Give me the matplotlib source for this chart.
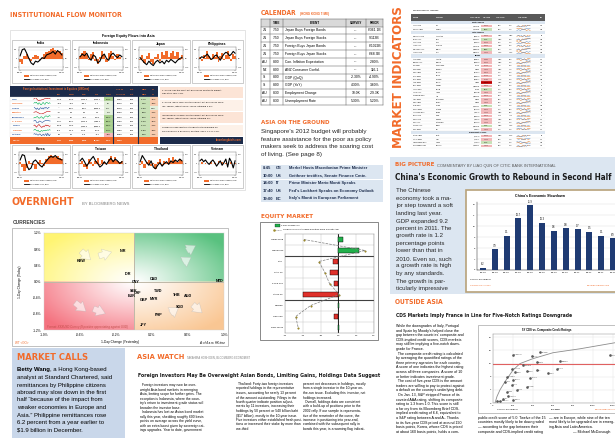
import numpy as np
import matplotlib.pyplot as plt
from matplotlib import font_manager as fm
from matplotlib.patches import Rectangle

W, H = 615, 438
ORANGE = '#F26B2A'
NAVY = '#1C2B4A'
BLUE_BG = '#DCE6F1'
SANS = ['Liberation Sans', 'DejaVu Sans']
plt.rcParams['font.family'] = SANS

# a condensed bold face for the headlines, if one is installed
cands = [f for f in fm.fontManager.ttflist
         if f.weight in ('bold', 700) and f.style == 'normal'
         and ('Narrow' in f.name or 'Condensed' in f.name or 'condensed' in str(f.stretch))]
cands.sort(key=lambda f: ('Sans' not in f.name and 'Roboto' not in f.name, f.name))
if cands:
    NARROW = [cands[0].name, 'DejaVu Sans']
    NSTRETCH = cands[0].stretch
else:
    NARROW = SANS
    NSTRETCH = 'normal'

# ---------------- data ----------------
# Foreign equity flows into Asia: net flows (bars) and MSCI index (line), Mar-11 .. Feb-12
india_flow = [-0.4, -0.6, 0.3, 0.5, 0.1, -0.3, 0.2, 0.4, 0.3, -0.2, 0.1, 0.5, 0.7, 0.9, 1.1, 1.2, 1.0, 0.9, 0.8, 0.6]
india_index = [0.3, 1.0, 1.1, 0.6, 0.0, -0.5, -0.7, -0.3, -0.4, -0.2, 0.1, 0.0, 0.4, 0.5, 0.6, 0.8, 0.5, 0.9, 0.7, 0.4]
indonesia_flow = [0.3, 0.6, 0.9, 0.4, -0.2, 0.5, 0.7, -0.3, -0.6, 0.2, 0.8, 0.4, -0.4, 0.6, 0.9, 0.3, -0.2, 0.5, 0.2, -0.1]
indonesia_index = [0.2, 0.5, 0.3, 0.6, 0.1, -0.2, 0.4, 0.2, -0.5, -0.3, 0.3, 0.5, 0.0, -0.2, 0.4, 0.6, 0.3, 0.1, 0.4, 0.2]
japan_flow = [-0.2, 0.4, -0.5, 0.3, 0.6, -0.4, -0.6, 0.2, 0.5, -0.3, 0.7, 0.4, 0.8, 0.2, 0.6, 0.9, 0.3, 0.7, -0.2, 0.4]
japan_index = [0.1, -0.2, -0.5, -0.7, -0.3, -0.6, -0.8, -0.4, -0.2, -0.5, -0.3, -0.6, -0.2, -0.4, -0.1, -0.3, -0.5, -0.2, 0.0, 0.1]
philippines_flow = [0.2, -0.3, 0.4, 0.1, 0.9, 0.3, -0.2, 0.5, 0.2, 0.7, -0.4, 0.3, 0.6, -0.2, 0.4, 0.8, 0.2, -0.3, 0.5, 0.3]
philippines_index = [0.0, 0.2, 0.1, 0.3, 0.5, 0.2, -0.1, 0.0, 0.3, 0.4, 0.1, -0.2, 0.2, 0.5, 0.7, 0.6, 0.3, 0.5, 0.8, 0.6]
korea_flow = [0.2, -0.4, -0.8, -0.5, 0.3, 0.1, -0.2, -0.6, 0.2, 0.4, 0.1, -0.3, 0.5, 0.8, 1.0, 0.9, 0.7, 0.8, 0.6, 0.5]
korea_index = [0.4, 1.0, 0.9, -0.2, -0.7, -0.5, 0.2, 0.4, 0.1, -0.2, -0.4, 0.0, 0.3, 0.6, 0.8, 0.7, 0.9, 0.6, 0.5, 0.4]
taiwan_flow = [0.1, 0.3, -0.4, -0.6, 0.5, 0.2, -0.3, 0.3, 0.6, -0.2, 0.4, 0.2, -0.1, 0.5, 0.8, 0.4, 0.7, 0.3, 0.2, 0.3]
taiwan_index = [0.3, 0.6, 0.2, -0.3, 0.1, 0.5, 0.8, 0.3, 0.0, -0.4, -0.2, 0.2, -0.1, 0.3, 0.6, 0.2, 0.5, 0.3, 0.0, 0.2]
thailand_flow = [-0.2, 0.3, -0.5, 0.2, 0.4, -0.3, 0.1, -0.6, 0.2, 0.5, -0.2, 0.3, 0.1, 0.6, 0.3, 0.7, 0.4, 0.2, 0.5, 0.3]
thailand_index = [0.2, 0.9, 0.5, 0.1, -0.2, 0.3, -0.4, -0.6, -0.2, 0.1, -0.3, 0.0, 0.2, -0.1, 0.3, 0.1, 0.4, 0.2, 0.5, 0.3]
vietnam_flow = [0.0, 0.2, 0.0, 0.1, 0.0, -0.1, 0.2, 0.0, 0.1, 0.0, 0.3, 0.0, 0.2, 0.0, 0.1, 0.0, -0.1, 0.2, 0.0, 0.1]
vietnam_index = [0.3, 0.5, 0.2, 0.4, 0.1, -0.1, 0.2, 0.4, 0.1, -0.3, 0.0, 0.3, -0.2, 0.1, 0.5, -0.4, 0.6, 0.2, -0.5, 0.3]
pakistan_index = [0.1, 0.2, 0.0, -0.2, -0.1, 0.1, 0.3, 0.2]

ifm_countries = ['India', 'Indonesia', 'Japan', 'Pakistan', 'Philippines', 'S. Korea', 'Taiwan', 'Thailand', 'Vietnam']
ifm_day = ['252.6', '-45.8', '--', '-0.7', '-3.7', '254.7', '552.8', '99.2', '0.0']
ifm_wtd = ['353.0', '-45.8', '998.7', '0.3', '8.7', '372.1', '236.0', '101.4', '5.4']
ifm_mtd = ['1,245.3', '-136.7', '998.7', '0.3', '-29.6', '2,212.9', '1,233.6', '412.6', '12.3']
ifm_ytd = ['6,423.1', '71.7', '5,836.3', '4.3', '346.2', '7,386.3', '5,863.2', '553.0', '-19.2']
ifm_ytd_pct = [224, 3, 42, 16, 282, 392, 181, 264, -38]
ifm_cap = ['0.28%', '0.02%', '0.02%', '0.09%', '0.20%', '0.78%', '0.88%', '0.28%', '0.08%']
ifm_msci = [10.7, 1.2, 10.9, 8.6, 9.0, 10.2, 13.7, 12.8, 5.6]
ifm_us = [-0.2, -0.8, 1.9, -0.3, -2.7, -0.5, -0.4, -0.9, -1.4]
ifm_total = ['1,111', '2,029', '5,949', '32,464', '128%', '0.26%', '', '', '']

# Currencies: 1-day change yesterday (x) vs today (y), %
cur_codes = ['KRW', 'INR', 'IDR', 'CNY', 'CAD', 'SEK', 'CHF', 'EUR', 'GBP', 'MYR', 'TWD', 'THB', 'AUD', 'SGD', 'PHP', 'JPY', 'NZD']
cur_yesterday = [-0.59, -0.12, -0.07, 0.02, 0.22, 0.00, 0.04, -0.03, 0.11, 0.22, 0.27, 0.48, 0.60, 0.51, 0.27, 0.11, 0.95]
cur_today = [0.51, 0.75, 0.19, -0.02, 0.07, -0.24, -0.29, -0.36, -0.46, -0.44, -0.24, -0.34, -0.36, -0.63, -0.82, -1.07, 0.02]

# Equity market
eq_names = ['Hang Seng', 'Nikkei 225', 'DAX', 'CAC 40', 'FTSE 100', 'Stoxx 50', 'Nasdaq', 'S&P 500', 'Dow Jones']
eq_change = [0.12, 0.57, -0.16, -0.25, -0.11, -0.99, 0.01, -0.11, 0.02]
eq_volume = [-0.97, 0.75, -0.55, -0.38, -0.25, 0.02, -0.78, -1.20, -1.13]

# Calendar
cal_country = ['JN', 'JN', 'JN', 'JN', 'AU', 'NZ', 'SI', 'SI', 'AU', 'AU']
cal_time = ['7:50', '7:50', '7:50', '7:50', '8:00', '8:00', '8:00', '8:00', '8:30', '8:30']
cal_event = ['Japan Buys Foreign Bonds', 'Japan Buys Foreign Stocks', 'Foreign Buys Japan Bonds',
             'Foreign Buys Japan Stocks', 'Con. Inflation Expectation', 'ANZ Consumer Confid.',
             'GDP (QoQ)', 'GDP (YoY)', 'Employment Change', 'Unemployment Rate']
cal_survey = ['---', '---', '---', '---', '---', '---', '-2.30%', '4.30%', '10.0K', '5.30%']
cal_prior = ['¥361.1B', '-¥113B', '¥1022B', '¥68.3B', '2.80%', '116.1', '-4.90%', '3.60%', '-29.3K', '5.20%']

ev_time = ['8:45', '10:00', '14:00', '17:40', '19:00']
ev_country = ['GE', 'US', 'IT', 'US', 'EC']
ev_text = ['Merkel Hosts Macedonian Prime Minister', 'Geithner testifies, Senate Finance Cmte.',
           'Prime Minister Mario Monti Speaks', "Fed's Lockhart Speaks on Economy Outlook",
           "Italy's Monti in European Parliament"]

# China GDP
gdp_quarters = ['1Q-09', '2Q-09', '3Q-09', '4Q-09', '1Q-10', '2Q-10', '3Q-10', '4Q-10', '1Q-11', '2Q-11', '3Q-11', '4Q-11']
gdp_yoy = [6.2, 7.9, 9.1, 10.7, 11.9, 10.3, 9.6, 9.8, 9.7, 9.5, 9.1, 8.9]

# CDS vs composite ratings
cds_country = ['Philippines', 'Turkey', 'Vietnam', 'Croatia', 'Hungary', 'Portugal', 'Romania', 'Indonesia',
               'Brazil', 'Russia', 'Italy', 'Spain', 'Ireland', 'Mexico', 'Colombia', 'Peru', 'Poland',
               'China', 'Korea', 'Japan', 'Belgium', 'Austria', 'France', 'U.K.', 'Germany', 'U.S.']
cds_spread = [197, 387, 470, 437, 670, 1170, 303, 187, 220, 337, 437, 553, 637, 203, 137, 120, 370,
              187, 237, 137, 337, 153, 203, 103, 70, 37]
cds_rating = [14.7, 14.3, 15.5, 12.5, 12.7, 14.5, 11.5, 10.5, 9.3, 9.7, 10.0, 9.0, 10.5, 7.0, 8.0, 6.5, 7.7,
              5.5, 4.0, 3.5, 5.0, 2.0, 1.0, 1.3, 0.7, 0.5]
cds_trend_x = [20, 40, 70, 120, 200, 270, 400, 600, 870, 1250]
cds_trend_y = [0.0, 2.0, 4.0, 6.5, 10.0, 12.0, 13.5, 15.3, 16.5, 18.5]

# World equity indices
we_north = ['U.S.', 'Canada']
we_latin = ['Argentina', 'Brazil', 'Chile', 'Colombia', 'Mexico', 'Peru']
we_europe = ['Austria', 'Belgium', 'Czech Rep.', 'Denmark', 'Finland', 'France', 'Germany', 'Greece',
             'Hungary', 'Iceland', 'Ireland', 'Italy', 'Netherlands', 'Norway', 'Poland', 'Portugal',
             'Russia', 'Spain', 'Sweden', 'Switzerland', 'Turkey', 'U.K.']
we_mea = ['Egypt', 'Israel', 'Jordan', 'Morocco']
we_tickers = ['INDU', 'SPTSX', 'MERVAL', 'IBOV', 'IPSA', 'IGBC', 'MEXBOL', 'IGBVL', 'ATX', 'BEL20', 'PX',
              'KFX', 'HEX', 'CAC', 'DAX', 'ASE', 'BUX', 'ICEXI', 'ISEQ', 'FTSEMIB', 'AEX', 'OBX', 'WIG',
              'PSI20', 'INDEXCF', 'IBEX', 'OMX', 'SMI', 'XU100', 'UKX', 'CASE', 'TA-25', 'JOSMGNFF', 'MOSENEW']
we_last = [12874.04, 12019.93, 2640.76, 64825.11, 4493.65, 13872.48, 37983.20, 21045.77,
           2188.21, 2356.50, 970.10, 464.62, 2176.84, 3369.63, 6728.07, 754.82, 19165.32, 670.36,
           3197.98, 16134.16, 321.52, 421.63, 40951.51, 5577.12, 1530.46, 8564.50, 1085.96, 6121.89,
           59710.04, 5899.87, 4874.40, 1075.31, 1913.84, 10893.01]
we_chg = [-0.24, 0.13, -1.06, 0.64, -0.21, -0.22, 0.18, -0.44, -0.65, -0.64, -0.59, -0.33, -0.87, -0.59,
          -0.55, -3.62, -0.92, 0.11, -0.42, -0.97, -0.38, -0.42, 0.23, -0.89, -0.16, -0.87, -0.35, -0.41,
          0.53, -0.12, -1.11, -0.16, 0.04, -0.31]
we_ytd = [5.4, 7.5, 21.8, 14.2, 8.6, 14.9, 2.4, 18.2, 15.1, 11.5, 6.3, 11.9, 9.6, 6.6, 14.1, 11.4, 6.4,
          3.2, 11.7, 7.5, 8.4, 7.2, 9.3, 0.6, 11.2, -0.2, 10.7, 4.9, 23.1, 5.9, 34.2, 1.8, 0.3, 4.1]
we_pe = [13.8, 14.2, 9.1, 11.6, 18.3, 16.8, 17.2, 12.1, 13.4, 11.8, 10.2, 15.9, 12.3, 10.9, 11.5, 0.0,
         9.8, 8.6, 11.1, 10.7, 10.4, 9.2, 11.6, 10.1, 6.2, 9.9, 12.2, 13.3, 10.6, 10.5, 9.4, 10.2, 14.6, 15.8]
spark_up = [3, 4, 3, 5, 4, 6, 5, 6]
spark_down = [6, 5, 6, 4, 5, 3, 4, 3]
spark_flat = [4, 5, 3, 4, 5, 4, 6, 5]

# ---------------- helpers ----------------
fig = plt.figure(figsize=(W / 100, H / 100), dpi=100)
fig.patch.set_facecolor('white')
bg = fig.add_axes([0, 0, 1, 1])
bg.set_xlim(0, W)
bg.set_ylim(H, 0)
bg.axis('off')
renderer = fig.canvas.get_renderer()


def px_axes(x, y, w, h):
    return fig.add_axes([x / W, 1 - (y + h) / H, w / W, h / H])


def put(x, y, s, size=3, color='black', weight='normal', ha='left', va='center', family=SANS, **kw):
    return bg.text(x, y, s, fontsize=size, color=color, fontweight=weight, ha=ha, va=va,
                   family=family, **kw)


def head(x, y, s, width, color=ORANGE, size=8, **kw):
    # condensed bold headline, scaled so that it spans `width` pixels like the print page
    t = put(x, y, s, size=size, color=color, weight='bold', family=NARROW, fontstretch=NSTRETCH, **kw)
    bb = t.get_window_extent(renderer)
    span = bb.height if kw.get('rotation', 0) == 90 else bb.width
    t.set_fontsize(size * width / span)
    return t


def rect(x, y, w, h, fc='none', ec='none', lw=0.4, z=1):
    bg.add_patch(Rectangle((x, y), w, h, facecolor=fc, edgecolor=ec, linewidth=lw, zorder=z))


def hline(x0, x1, y, color='#999999', lw=0.4, ls='-'):
    bg.plot([x0, x1], [y, y], color=color, lw=lw, ls=ls)


def vline(x, y0, y1, color='#999999', lw=0.4):
    bg.plot([x, x], [y0, y1], color=color, lw=lw)


def lines_block(x, y, lines, step, size, **kw):
    for i, s in enumerate(lines):
        put(x, y + i * step, s.replace('$', r'\$'), size=size, **kw)


def tiny_axes(ax):
    ax.set_xticks([])
    ax.set_yticks([])
    for sp in ax.spines.values():
        sp.set_visible(False)
    ax.patch.set_alpha(0)


# ---------------- INSTITUTIONAL FLOW MONITOR ----------------
head(10, 15, 'INSTITUTIONAL FLOW MONITOR', 112)
rect(10, 30, 235, 160, ec='#D0D0D0', lw=0.4)
put(128, 36, 'Foreign Equity Flows into Asia', size=2.6, weight='bold', ha='center')


def flow_chart(x, y, w, name, flow, index):
    rect(x, y, w, 43, fc='white', ec='#A6A6A6', lw=0.4)
    put(x + w / 2, y + 3.5, name, size=2.4, weight='bold', ha='center')
    ax = px_axes(x + 7, y + 7, w - 14, 23)
    pos = np.arange(len(flow))
    ax.bar(pos, flow, width=1.0, color=ORANGE, lw=0)
    ax.set_xlim(-0.5, len(flow) - 0.5)
    ax.set_ylim(-1.3, 1.3)
    ax.grid(axis='y', lw=0.2, color='#CCCCCC')
    ax.set_axisbelow(True)
    ax2 = ax.twinx()
    ax2.plot(pos, index, color='black', lw=0.8)
    ax2.set_ylim(-1.3, 1.3)
    for a in (ax, ax2):
        a.tick_params(labelsize=1.4, length=0.8, width=0.2, pad=0.4)
        for sp in a.spines.values():
            sp.set_linewidth(0.2)
            sp.set_color('#888888')
    ax.set_xticks([0, len(flow) - 1], ['Mar-11', 'Feb-12'])
    ax.set_yticks([-1, 0, 1], ['-500', '0', '500'])
    ax2.set_yticks([-1, 0, 1], ['-10%', '0%', '10%'])
    rect(x + 12, y + 34.5, 5, 2, fc=ORANGE)
    put(x + 18, y + 35.5, 'Net Foreign Flows (USDmn, LHS)', size=1.3)
    hline(x + 12, x + 17, y + 39, color='black', lw=0.6)
    put(x + 18, y + 39, 'MSCI Index (USD, RHS)', size=1.3)


flow_chart(12, 40, 58, 'India', india_flow, india_index)
flow_chart(72, 40, 58, 'Indonesia', indonesia_flow, indonesia_index)
flow_chart(132, 40, 58, 'Japan', japan_flow, japan_index)
flow_chart(192, 40, 51, 'Philippines', philippines_flow, philippines_index)
flow_chart(12, 145, 58, 'Korea', korea_flow, korea_index)
flow_chart(72, 145, 58, 'Taiwan', taiwan_flow, taiwan_index)
flow_chart(132, 145, 58, 'Thailand', thailand_flow, thailand_index)
flow_chart(192, 145, 51, 'Vietnam', vietnam_flow, vietnam_index)

# flows table
rect(10, 86, 148, 11, fc=NAVY)
put(56, 89, 'Foreign Institutional Investment in Equities (USDmn)', size=1.9, color=ORANGE, weight='bold', ha='center')
col_x = [59, 71, 84, 97, 108.5, 120, 132, 144, 153.5]
for cx, s in zip(col_x, ['Day', 'WTD', 'MTD', 'YTD', 'YTD%', '% of Cap', 'Last', 'MSCI', 'US']):
    put(cx, 94.5, s, size=1.5, color=ORANGE, weight='bold', ha='center')
put(120, 89, 'YTD as', size=1.5, color=ORANGE, weight='bold', ha='center')
put(132, 89, 'Last', size=1.5, color=ORANGE, weight='bold', ha='center')
put(144, 89, 'MSCI', size=1.5, color=ORANGE, weight='bold', ha='center')
put(153.5, 89, 'US', size=1.5, color=ORANGE, weight='bold', ha='center')
row_h = 4.45
spark_lists = [india_index, indonesia_index, japan_index, pakistan_index, philippines_index,
               korea_index, taiwan_index, thailand_index, vietnam_index]
for i, name in enumerate(ifm_countries):
    ry = 97 + i * row_h
    rect(10, ry, 148, row_h, fc='white', ec='#D9D9D9', lw=0.2)
    pct = ifm_ytd_pct[i]
    rect(104, ry, 9, row_h, fc='#A9D08E' if pct > 100 else ('#E2EFDA' if pct >= 0 else '#F4B6B8'))
    rect(138, ry, 12, row_h, fc='#C6E0B4')
    rect(150, ry, 8, row_h, fc='#F8CBAD' if ifm_us[i] < 0 else '#E2EFDA')
    cy = ry + row_h / 2
    put(12, cy, name, size=1.7, weight='bold', color='#1F4E9A' if i % 2 == 0 else ORANGE)
    vals = [ifm_day[i], ifm_wtd[i], ifm_mtd[i], ifm_ytd[i], f'{pct}%', ifm_cap[i], '2/13',
            f'{ifm_msci[i]:.1f}%', f'{ifm_us[i]:.1f}%']
    for cx, s in zip(col_x, vals):
        put(cx, cy, s, size=1.5, ha='center')
    sa = px_axes(33, ry + 0.6, 18, row_h - 1.2)
    sa.plot(spark_lists[i], color=['#C00000', '#00B050', '#1F4E9A'][i % 3], lw=0.4)
    tiny_axes(sa)
vline(113, 86, 143, color=NAVY, lw=0.8)
vline(137.5, 86, 143, color=NAVY, lw=0.8)
rect(10, 137, 148, 6.5, fc=ORANGE)
put(12, 140.2, 'TOTAL', size=1.7, weight='bold', color='white')
for cx, s in zip(col_x, ifm_total):
    put(cx, 140.2, s, size=1.5, ha='center', color='white', weight='bold')

# notes
notes = [
    ['1. Korea: has the most net purchases relative to market', 'cap at 0.178% YTD.'],
    ['2. Korea ($372.1mn) has the highest net purchases WTD', '(ex. Japan), with its MSCI Index returning 2.3%.'],
    ['Indonesia ($-45.8mn) has the lowest net purchases WTD', '(ex. Japan), with its MSCI Index returning 2%.'],
    ['Taiwan & India saw the strongest net purchasing on', '2/13 ($552mn & $252mn); equities rose 1.1% & 1.3%.'],
]
for k, note in enumerate(notes):
    ny = 87 + k * 12.5
    rect(160, ny, 83, 11, fc='#FCE4D6' if k % 2 == 0 else '#FDF1E8')
    lines_block(162, ny + 3, note, 3.6, 1.7)
rect(160, 137, 83, 6.5, fc=NAVY)
put(241, 140.2, 'bloombergbriefs.com', size=1.8, color=ORANGE, weight='bold', ha='right')

# ---------------- OVERNIGHT / CURRENCIES ----------------
head(12, 202, 'OVERNIGHT', 62)
put(82, 204, 'BY BLOOMBERG NEWS', size=3.0, color='#7F7F7F')
put(13, 222, 'CURRENCIES', size=3.6, color='#404040', weight='bold')
rect(12, 228, 216, 118, ec='#A6A6A6', lw=0.5)

cax = px_axes(44, 233, 180, 97)
nx, ny_ = 200, 120
u = np.abs(np.linspace(-1, 1, nx))[None, :]
v = np.abs(np.linspace(1, -1, ny_))[:, None]
t = np.clip(np.hypot(u, v) / 1.25, 0, 1)[..., None] ** 1.1
xs = np.linspace(-1, 1, nx)[None, :]
ys = np.linspace(1, -1, ny_)[:, None]
corner = np.zeros((ny_, nx, 3))
corner[(ys > 0) & (xs < 0)] = (1.00, 0.96, 0.45)
corner[(ys > 0) & (xs >= 0)] = (0.35, 0.76, 0.50)
corner[(ys <= 0) & (xs < 0)] = (0.96, 0.45, 0.50)
corner[(ys <= 0) & (xs >= 0)] = (0.98, 0.78, 0.58)
img = (1 - t) * 1.0 + t * corner
cax.imshow(img, extent=(-1.0, 1.0, -1.2, 1.2), aspect='auto', zorder=0)
cax.axvline(0, color='#BFB8A8', lw=0.7)
cax.axhline(0, color='#BFB8A8', lw=0.7)
arrows = [((-0.61, 0.80), (-0.46, 0.49)), ((-0.42, 0.61), (-0.22, 0.75)),
          ((-0.68, -0.48), (-0.51, -0.78)), ((-0.48, -0.65), (-0.29, -0.82)),
          ((0.52, 0.44), (0.66, 0.63)), ((0.56, 0.73), (0.71, 0.92)),
          ((0.38, -0.82), (0.52, -0.61)), ((0.63, -0.53), (0.78, -0.82))]
for a0, a1 in arrows:
    cax.annotate('', xy=a1, xytext=a0,
                 arrowprops=dict(arrowstyle='simple,head_width=1.2,head_length=0.9,tail_width=0.6',
                                 fc='white', ec='#B0B0B0', lw=0.3, alpha=0.6, mutation_scale=7))
for code, xv, yv in zip(cur_codes, cur_yesterday, cur_today):
    cax.text(xv, yv, code, fontsize=2.7, fontweight='bold', ha='center', va='center')
cax.text(-0.97, -1.12, 'Format: XXXUSD Curncy (If positive appreciating against USD)',
         fontsize=2.1, color='#C0504D', style='italic', va='center')
cax.set_xlim(-1.0, 1.0)
cax.set_ylim(-1.2, 1.2)
cax.set_xticks([-1.0, -0.6, -0.2, 0.2, 0.6, 1.0], [f'{v:.1f}%' for v in [-1.0, -0.6, -0.2, 0.2, 0.6, 1.0]])
cax.set_yticks([1.2, 0.8, 0.4, 0.0, -0.4, -0.8, -1.2], [f'{v:.1f}%' for v in [1.2, 0.8, 0.4, 0.0, -0.4, -0.8, -1.2]])
cax.tick_params(labelsize=2.3, length=0, pad=2)
for sp in cax.spines.values():
    sp.set_color('#D0D0D0')
    sp.set_linewidth(0.3)
put(120, 342, '1-Day Change (Yesterday)', size=2.3, ha='center')
put(20, 282, '1-Day Change (Today)', size=2.3, ha='center', rotation=90)
put(15, 343, 'WT <GO>', size=2.2, color=ORANGE)
put(225, 343, 'As of 4 a.m. HK time', size=2.1, style='italic', ha='right')

# ---------------- MARKET CALLS ----------------
rect(12, 348, 113, 90, fc='#C9D7EA')
head(17, 358, 'MARKET CALLS', 71)
b = put(17, 370, 'Betty Wang', size=4.3, weight='bold')
bg.annotate(', a Hong Kong-based', xy=(1, 0.5), xycoords=b, va='center', fontsize=4.3, family=SANS)
calls = ['analyst at Standard Chartered, said', 'remittances by Philippine citizens',
         'abroad may slow down in the first', 'half \u201cbecause of the impact from',
         'weaker economies in Europe and', 'Asia.\u201d Philippine remittances rose',
         '6.2 percent from a year earlier to', '$1.9 billion in December.']
lines_block(17, 377.5, calls, 7.5, 4.3)

# ---------------- ASIA WATCH ----------------
head(137, 357, 'ASIA WATCH', 47)
put(187, 358, 'TAKAHIRA HOSHIDEN, BLOOMBERG ECONOMIST', size=1.9, color='#7F7F7F')
head(138, 376, 'Foreign Investors May Be Overweight Asian Bonds, Limiting Gains, Holdings Data Suggest',
     244, color='#1A1A1A')
aw1 = ['  Foreign investors may now be over-', 'weight Asia bond markets in emerging',
       'Asia, limiting scope for further gains. The', 'exception is Indonesia, where the coun-',
       "try's return to investment-grade status will", 'broaden the investor base.',
       '  Indonesia has lost an Asian bond market', 'rally this year, shedding roughly 600 basis',
       'points on average across the yield curve,', 'with an extra boost given by sovereign rat-',
       'ings upgrades. Year to date, government']
aw2 = ['  Thailand: Forty-two foreign investors', 'reported holdings in the representative',
       'issues, accounting for nearly 13 percent', 'of the amount outstanding. Filings in the',
       'fourth quarter indicate position adjust-', 'ments by 11 investors, increasing their',
       'holdings by 50 percent or 540 billion baht', '($17 billion), mostly in the 10-year issue.',
       'Five investors either established fresh posi-', 'tions or increased their stake by more than',
       'one-third.']
aw3 = ['percent net decreases in holdings, mostly', 'from a single investor in the 10-year on-',
       'the-run issue. Excluding this investor, net', 'holdings increased.',
       '  Overall, holdings data are consistent', 'with a build-up of positions prior to the',
       '2002 rally. If our sample is representa-', 'tive of the remainder of the curve, the',
       'increase in positioning into year-end,', 'combined with the subsequent rally in',
       'bonds this year, is a warning flag indicat-']
lines_block(140, 385, aw1, 4.55, 2.4)
lines_block(236, 384, aw2, 4.5, 2.4)
lines_block(303, 384, aw3, 4.5, 2.4)

# ---------------- CALENDAR ----------------
head(261, 13, 'CALENDAR', 36)
put(300, 13.5, '(HONG KONG TIME)', size=2.2, color=ORANGE, weight='bold')
cal_cols = [261, 270, 283, 346, 366, 383]
rect(261, 19, 122, 7.5, fc='#D9D9D9')
for j, s in enumerate(['', 'TIME', 'EVENT', 'SURVEY', 'PRIOR']):
    put((cal_cols[j] + cal_cols[j + 1]) / 2, 22.8, s, size=2.2, weight='bold', ha='center')
for i in range(len(cal_event)):
    cy = 26.5 + i * 7.85 + 3.9
    put(262.5, cy, cal_country[i], size=2.4)
    put(276.5, cy, cal_time[i], size=2.4, ha='center')
    put(285, cy, cal_event[i], size=2.4)
    put(356, cy, cal_survey[i], size=2.4, ha='center')
    put(374.5, cy, cal_prior[i], size=2.4, ha='center')
for k in range(12):
    hline(261, 383, 19 + (0 if k == 0 else 7.5 + (k - 1) * 7.85), color='#595959', lw=0.35)
for cx in cal_cols:
    vline(cx, 19, 105, color='#595959', lw=0.35)

# ---------------- ASIA ON THE GROUND ----------------
head(261, 123, 'ASIA ON THE GROUND', 69)
lines_block(261, 132, ["Singapore's 2012 budget will probably", 'feature assistance for the poor as policy',
                       'makers seek to address the soaring cost', 'of living. (See page 8)'], 7.4, 4.5,
            color='#262626')
for i in range(len(ev_text)):
    ry = 164.5 + i * 7.6
    rect(261, ry, 122, 7.2, fc=BLUE_BG)
    put(263, ry + 3.6, ev_time[i], size=3.0, weight='bold', color='#1F2F4F')
    put(276, ry + 3.6, ev_country[i], size=3.0, weight='bold', color='#1F2F4F')
    put(289, ry + 3.6, ev_text[i], size=2.9, weight='bold', color='#1F2F4F')

# ---------------- EQUITY MARKET ----------------
head(261, 216, 'EQUITY MARKET', 52)
rect(260, 222, 118, 118, ec='#595959', lw=0.5)
rect(275, 224.3, 5, 2.2, fc='#22B04B', ec='black', lw=0.2)
put(281, 225.4, '1-Day Change (%)', size=1.6)
bg.plot([274, 281], [229.5, 229.5], color='#7F7F7F', lw=0.4, ls='--', marker='o', ms=0.8,
        mfc='#A08C2A', mec='#A08C2A', markevery=[0])
put(283, 229.5, 'Trading Volume (Standard Deviation From 3-Month Avg)', size=1.6)
eax = px_axes(285, 234, 89, 99)
ypos = np.arange(len(eq_names))
eax.barh(ypos, eq_change, height=0.45, color=['#22B04B' if c > 0 else '#E0312B' for c in eq_change],
         edgecolor='black', lw=0.3, zorder=3)
eax.plot(eq_volume, ypos, ls='--', color='#7F7F7F', lw=0.5, marker='o', ms=1.2,
         mfc='#A08C2A', mec='#7A6A1A', mew=0.2, zorder=4)
eax.set_ylim(len(eq_names) - 0.5, -0.5)
eax.set_xlim(-1.5, 1.0)
eax.set_yticks(ypos, eq_names)
eax.set_xticks([-1.5, -1.0, -0.5, 0.0, 0.5, 1.0], ['-1.5', '-1.0', '-0.5', '0.0', '0.5', '1.0'])
eax.tick_params(labelsize=1.7, length=0, pad=1.5)
for yb in np.arange(0.5, len(eq_names) - 0.5):
    eax.axhline(yb, color='#404040' if yb in (1.5, 5.5) else '#BFBFBF', lw=0.8 if yb in (1.5, 5.5) else 0.3)
eax.grid(axis='x', color='#BFBFBF', lw=0.3)
eax.axvline(0, color='black', lw=0.6, zorder=2)
for sp in eax.spines.values():
    sp.set_linewidth(0.3)
    sp.set_color('#808080')

# ---------------- MARKET INDICATORS ----------------
head(399, 77, 'MARKET INDICATORS', 142, rotation=90, ha='center')
put(413, 10.5, 'WORLD EQUITY INDICES', size=1.5, color='#404040', weight='bold')
rect(411, 14, 134, 7, fc='#595959')
for hx, s in [(413, 'TICKER'), (436, 'COUNTRY'), (480, 'LAST PRICE'), (487, '1D %Chg'),
              (500, 'YTD %Chg'), (523, '1YR CHART'), (543, 'P/E')]:
    put(hx, 17.5, s, size=1.2, color='white', weight='bold',
        ha='left' if hx < 450 else ('right' if hx in (480, 543) else 'center'))
sections = [('North America', we_north), ('Latin America', we_latin), ('Europe', we_europe),
            ('Middle East & Africa', we_mea)]
rh = 3.33
ry = 21
k = 0
for title, names in sections:
    rect(411, ry, 134, rh, fc=BLUE_BG)
    put(478, ry + rh / 2, title, size=1.3, weight='bold', ha='center')
    ry += rh
    for name in names:
        cy = ry + rh / 2
        put(413, cy, we_tickers[k] + ' Index', size=1.2)
        put(436, cy, name, size=1.2)
        put(480, cy, f'{we_last[k]:,.2f}', size=1.2, ha='right')
        c = we_chg[k]
        rect(481, ry + 0.3, 11, rh - 0.6,
             fc=('#C00000' if c < -1.5 else '#F4B6B8') if c < 0 else '#C6E0B4')
        put(486.5, cy, f'{c:.2f}%', size=1.1, ha='center')
        put(500, cy, f'{we_ytd[k]:.1f}%', size=1.1, ha='center')
        put(511, cy, f'{we_ytd[k] * 0.6:.1f}%', size=1.1, ha='center')
        sa = px_axes(516, ry + 0.4, 15, rh - 0.8)
        sa.plot([spark_up, spark_down, spark_flat][k % 3], color='#E46C0A', lw=0.3)
        sa.plot([spark_flat, spark_up, spark_down][k % 3], color='#4F81BD', lw=0.3)
        tiny_axes(sa)
        put(543, cy, f'{we_pe[k]:.1f}', size=1.1, ha='right')
        hline(411, 545, ry + rh, color='#E0E0E0', lw=0.2)
        ry += rh
        k += 1

# ---------------- BIG PICTURE ----------------
rect(390, 157, 225, 137, fc=BLUE_BG)
head(395, 165, 'BIG PICTURE', 40)
put(437, 165.5, 'COMMENTARY BY LIAO QUN OF CITIC BANK INTERNATIONAL', size=2.9, color='#595959')
head(395, 178, "China's Economic Growth to Rebound in Second Half", 217, color='#1A1A1A')
china_txt = ['The Chinese', 'economy took a ma-', 'jor step toward a soft', 'landing last year.',
             'GDP expanded 9.2', 'percent in 2011. The', 'growth rate is 1.2', 'percentage points',
             'lower than that in', '2010. Even so, such', 'a growth rate is high', 'by any standards.',
             'The growth is par-', 'ticularly impressive']
lines_block(396, 191, china_txt, 7.5, 4.4, color='#262626')
rect(466, 190, 155, 102, fc='white', ec='#B8A27A', lw=1.2)
put(540, 196, "China's Economic Slowdown", size=2.6, weight='bold', ha='center')
gax = px_axes(477, 202, 142, 68)
gpos = np.arange(len(gdp_yoy))
gax.bar(gpos, [g - 6 for g in gdp_yoy], bottom=6, width=0.5, color='#1F3B73', zorder=3)
for xp, g in zip(gpos, gdp_yoy):
    gax.text(xp, g + 0.15, f'{g:.1f}', fontsize=1.8, ha='center', va='bottom')
gax.set_xlim(-0.5, len(gdp_yoy) - 0.5)
gax.set_ylim(6, 12.2)
gax.set_yticks(range(6, 13))
gax.set_xticks(gpos, gdp_quarters)
gax.tick_params(labelsize=1.7, length=0, pad=1.2)
gax.grid(axis='y', color='#D9D9D9', lw=0.3)
for sp in ['top', 'right']:
    gax.spines[sp].set_visible(False)
for sp in ['left', 'bottom']:
    gax.spines[sp].set_linewidth(0.3)
rect(595, 209.2, 1.8, 1.8, fc='#1F3B73')
put(598, 210, 'GDP (YoY%)', size=1.6)
put(470, 280, 'Source: Bloomberg', size=1.7)
put(470, 285.5, 'CNGDPYOY Index', size=1.7, color=ORANGE)
put(587, 285.5, 'BloombergBriefs.com', size=1.7, color=ORANGE)

# ---------------- OUTSIDE ASIA ----------------
head(395, 302, 'OUTSIDE ASIA', 48)
head(396, 315, 'CDS Markets Imply France in Line for Five-Notch Ratings Downgrade', 176, color='#1A1A1A')
cds_txt = ['While the downgrades of Italy, Portugal', 'and Spain by Moody\u2019s helped close the',
           'gap between the countries\u2019 composite and', 'CDS-implied credit scores, CDS markets',
           'may still be implying a five-notch down-', 'grade for France.',
           '  The composite credit rating is calculated', 'by averaging the quantified ratings of the',
           'three primary agencies for each country.', 'A score of one indicates the highest rating',
           'across all three companies. A score of 10', 'or better indicates investment grade.',
           '  The cost of five-year CDS is the amount', 'traders are willing to pay to protect against',
           'a default on the country\u2019s underlying debt.', '  On Jan. 13, S&P stripped France of its',
           'coveted AAA rating, shifting its composite', 'rating to 1.3 from 1.0. This score is still',
           'a far cry from its Bloomberg Brief CDS-', 'implied credit rating of 6.6, equivalent to',
           'a S&P rating between A and A-. Thanks', 'to its five-year CDS priced at around 190',
           'basis points, Korea, whose CDS is priced', 'at about 160 basis points, holds a com-']
lines_block(396, 326, cds_txt, 4.6, 2.6)
rect(478, 325, 140, 88, fc='white', ec='#A6A6A6', lw=0.5)
put(547, 330, '5Y CDS vs. Composite Credit Ratings', size=2.0, weight='bold', ha='center')
dax = px_axes(493, 334, 127, 69)
dax.plot(cds_trend_x, cds_trend_y, color='#8C8C8C', lw=0.6)
dax.scatter(cds_spread, cds_rating, s=0.8, color='#595959', zorder=3)
for name, xv, yv in zip(cds_country, cds_spread, cds_rating):
    dax.text(xv + 15, yv, name, fontsize=1.3, va='center', color='#404040')
dax.axhline(12, color='#E06060', lw=0.8)
dax.set_xlim(0, 1270)
dax.set_ylim(0, 21)
dax.set_xticks(range(0, 1400, 200))
dax.set_yticks(range(0, 24, 4))
dax.grid(color='#E0E0E0', lw=0.3)
dax.tick_params(labelsize=1.7, length=0, pad=1.2)
for sp in dax.spines.values():
    sp.set_linewidth(0.3)
    sp.set_color('#808080')
rect(499, 337, 30, 10, fc='white', ec='#C00000', lw=0.4, z=5)
put(514, 340, 'Non-Investment', size=1.6, color='#C00000', weight='bold', ha='center', zorder=6)
put(514, 344, 'Grade', size=1.6, color='#C00000', weight='bold', ha='center', zorder=6)
rect(573, 368, 25, 10, fc='white', ec='#00863D', lw=0.4, z=5)
put(585.5, 371, 'Investment', size=1.6, color='#00863D', weight='bold', ha='center', zorder=6)
put(585.5, 375, 'Grade', size=1.6, color='#00863D', weight='bold', ha='center', zorder=6)
lines_block(567, 385, ['Note: Labels shown are for select countries', 'Greece, Ecuador, Argentina, U.S.,',
                       'Germany, Netherlands, Denmark'], 2.6, 1.2)
lines_block(572, 334, ['\u25aa Argentina', '\u25aa Ukraine', '  Venezuela'], 2.6, 1.3)
hline(500, 547, 399, color='#2E7D32', lw=0.6)
put(497, 410, 'Source: Bloomberg', size=1.7)
put(555, 410, '5Y CDS', size=1.7, weight='bold', ha='center')
put(595, 409, 'BloombergBriefs.com', size=1.6, color=ORANGE)
lines_block(478, 418, ['public credit score of 5.0. Twelve of the 15', 'countries mostly likely to be downgraded',
                       '\u2014 according to the gap between their', 'composite and CDS-implied credit rating'],
            4.5, 2.6)
lines_block(549, 418, ['\u2014 are in Europe, while nine of the ten', 'most likely to be upgraded are in emerg-',
                       'ing Asia and Latin America.', '                        \u2014 Michael McDonough'],
            4.5, 2.6)

fig.savefig('out.png', dpi=100, facecolor='white')
